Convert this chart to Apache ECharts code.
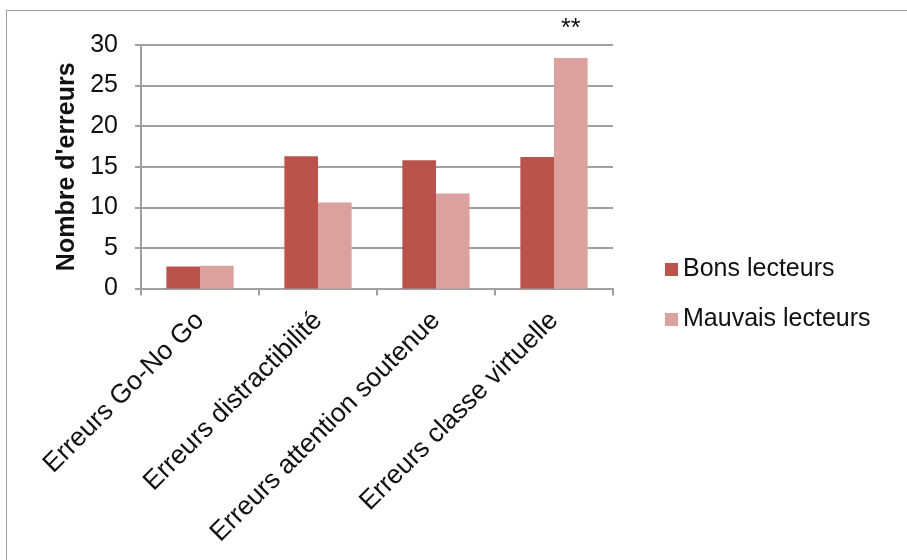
<!DOCTYPE html>
<html>
<head>
<meta charset="utf-8">
<script src="https://cdn.jsdelivr.net/npm/echarts@6/dist/echarts.min.js"></script>
<style>
html,body{margin:0;padding:0;background:#fff;}
#frame{position:absolute;left:6px;top:10px;width:1000px;height:700px;border:1.5px solid #a0a0a0;box-sizing:border-box;}
#chart{position:absolute;left:0;top:0;width:907px;height:560px;}
</style>
</head>
<body>
<div id="frame"></div>
<div id="chart"></div>
<script>
const categories = ['Erreurs Go-No Go', 'Erreurs distractibilité', 'Erreurs attention soutenue', 'Erreurs classe virtuelle'];
const bonsLecteurs = [2.7, 16.3, 15.8, 16.2];
const mauvaisLecteurs = [2.8, 10.6, 11.7, 28.4];
const significance = ['', '', '', '**'];
const seriesNames = ['Bons lecteurs', 'Mauvais lecteurs'];
const yTicks = { min: 0, max: 30, interval: 5 };
const yTitle = "Nombre d'erreurs";

const FONT = "'Liberation Sans', Arial, sans-serif";
const chart = echarts.init(document.getElementById('chart'), null, { renderer: 'canvas' });

const mauvaisData = mauvaisLecteurs.map((v, i) => significance[i] ? {
  value: v,
  label: { show: true, formatter: significance[i], position: 'top', distance: 16,
           fontSize: 25, color: '#111', fontFamily: FONT }
} : v);

chart.setOption({
  backgroundColor: 'transparent',
  animation: false,
  textStyle: { fontFamily: FONT },
  grid: { left: 141, right: 294, top: 45, bottom: 271.5, containLabel: false },
  legend: {
    orient: 'vertical', left: 660, top: 252,
    itemWidth: 13, itemHeight: 13, itemGap: 25,
    icon: 'rect',
    textStyle: { fontSize: 25, color: '#111', fontFamily: FONT, padding: [0, 0, 0, 0] },
    data: seriesNames
  },
  xAxis: {
    type: 'category',
    data: categories,
    boundaryGap: true,
    axisLine: { show: true, lineStyle: { color: '#a0a0a0', width: 2 } },
    axisTick: { show: true, length: 7, alignWithLabel: false, lineStyle: { color: '#a0a0a0', width: 2 } },
    axisLabel: { interval: 0, rotate: 45, fontSize: 26.5, color: '#111', margin: 28, fontFamily: FONT }
  },
  yAxis: {
    type: 'value',
    min: yTicks.min, max: yTicks.max, interval: yTicks.interval,
    name: yTitle,
    nameLocation: 'middle',
    nameGap: 59,
    nameTextStyle: { fontSize: 25, fontWeight: 'bold', color: '#111', fontFamily: FONT },
    axisLine: { show: true, lineStyle: { color: '#a0a0a0', width: 2 } },
    axisTick: { show: true, length: 6, lineStyle: { color: '#a0a0a0', width: 2 } },
    axisLabel: { fontSize: 25, color: '#111', margin: 23, fontFamily: FONT },
    splitLine: { show: true, lineStyle: { color: '#a0a0a0', width: 2 } }
  },
  series: [
    {
      name: seriesNames[0], type: 'bar', data: bonsLecteurs,
      barGap: '0%', barCategoryGap: '43%',
      itemStyle: { color: '#B9534C' }
    },
    {
      name: seriesNames[1], type: 'bar', data: mauvaisData,
      barGap: '0%', barCategoryGap: '43%',
      itemStyle: { color: '#DAA19F' }
    }
  ]
});
</script>
</body>
</html>
